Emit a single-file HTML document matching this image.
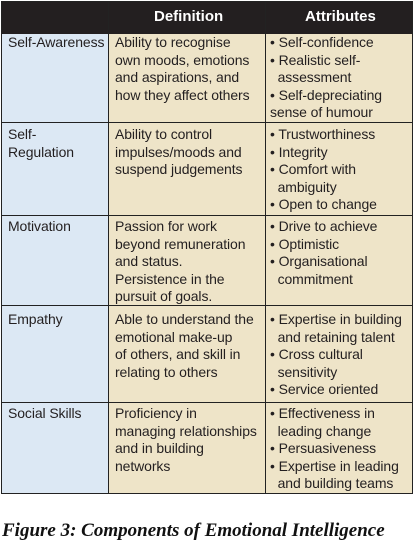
<!DOCTYPE html>
<html><head><style>
body{margin:0;width:415px;height:545px;background:#fff;position:relative;overflow:hidden;font-family:"Liberation Sans",sans-serif;}
.t{position:absolute;left:1px;top:1px;width:412px;height:493px;border:1px solid #222;box-sizing:border-box;}
.hd{position:absolute;left:0;top:0;width:410px;height:32px;background:#231f20;color:#fff;font-weight:bold;font-size:15px;}
.c1{position:absolute;left:0;top:32px;width:106px;height:459px;background:#dce8f4;}
.c2{position:absolute;left:106px;top:32px;width:304px;height:459px;background:#eee4c8;}
.vl{position:absolute;top:0;width:1px;height:491px;background:#222;}
.hl{position:absolute;left:0;width:410px;height:1px;background:#222;}
.tx{position:absolute;font-size:14px;line-height:17.6px;color:#231f20;white-space:nowrap;letter-spacing:-0.1px;}
</style></head><body>
<div class="t">
<div class="c1"></div><div class="c2"></div>
<div class="hd"><span style="position:absolute;left:152px;top:6px">Definition</span><span style="position:absolute;left:303px;top:6px">Attributes</span></div>
<div class="vl" style="left:106px"></div><div class="vl" style="left:263px"></div>
<div class="hl" style="top:120px"></div><div class="hl" style="top:213px"></div><div class="hl" style="top:303px"></div><div class="hl" style="top:400px"></div>
</div>
<div class="tx" style="left:8px;top:34px">Self-Awareness</div>
<div class="tx" style="left:115px;top:34px">Ability to recognise<br>own moods, emotions<br>and aspirations, and<br>how they affect others</div>
<div class="tx" style="left:270px;top:34px">• Self-confidence<br>• Realistic self-<br>&nbsp;&nbsp;assessment<br>• Self-depreciating<br>sense of humour</div>

<div class="tx" style="left:8px;top:126px">Self-<br>Regulation</div>
<div class="tx" style="left:115px;top:126px">Ability to control<br>impulses/moods and<br>suspend judgements</div>
<div class="tx" style="left:270px;top:126px">• Trustworthiness<br>• Integrity<br>• Comfort with<br>&nbsp;&nbsp;ambiguity<br>• Open to change</div>

<div class="tx" style="left:8px;top:218px">Motivation</div>
<div class="tx" style="left:115px;top:218px">Passion for work<br>beyond remuneration<br>and status.<br>Persistence in the<br>pursuit of goals.</div>
<div class="tx" style="left:270px;top:218px">• Drive to achieve<br>• Optimistic<br>• Organisational<br>&nbsp;&nbsp;commitment</div>

<div class="tx" style="left:8px;top:311px">Empathy</div>
<div class="tx" style="left:115px;top:311px">Able to understand the<br>emotional make-up<br>of others, and skill in<br>relating to others</div>
<div class="tx" style="left:270px;top:311px">• Expertise in building<br>&nbsp;&nbsp;and retaining talent<br>• Cross cultural<br>&nbsp;&nbsp;sensitivity<br>• Service oriented</div>

<div class="tx" style="left:8px;top:405px">Social Skills</div>
<div class="tx" style="left:115px;top:405px">Proficiency in<br>managing relationships<br>and in building<br>networks</div>
<div class="tx" style="left:270px;top:405px">• Effectiveness in<br>&nbsp;&nbsp;leading change<br>• Persuasiveness<br>• Expertise in leading<br>&nbsp;&nbsp;and building teams</div>

<div style="position:absolute;left:2px;top:520px;font-family:'Liberation Serif',serif;font-weight:bold;font-style:italic;font-size:19px;color:#111;white-space:nowrap">Figure 3: Components of Emotional Intelligence</div>
</body></html>
